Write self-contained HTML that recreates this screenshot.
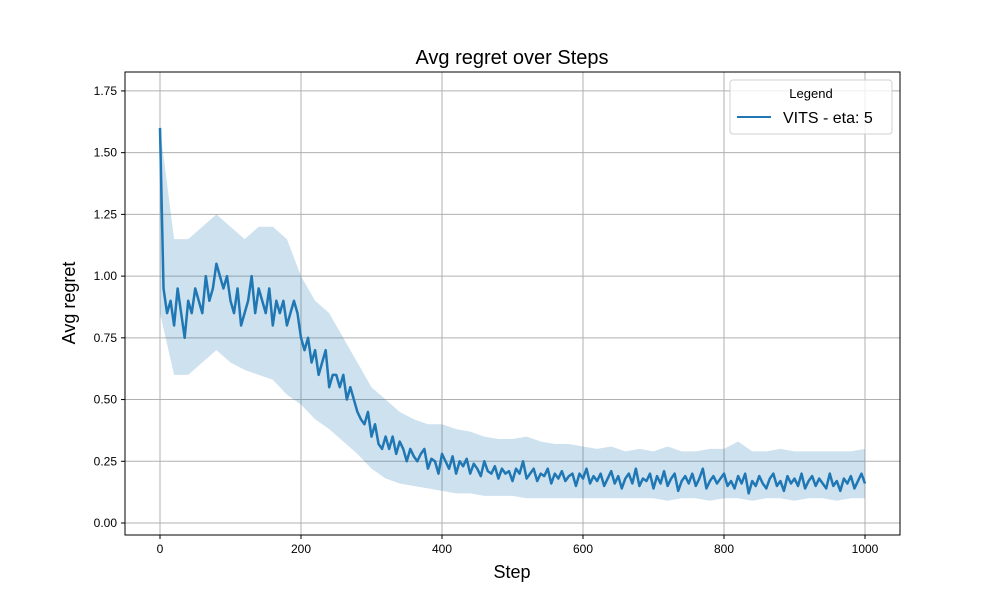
<!DOCTYPE html>
<html><head><meta charset="utf-8"><style>
body{margin:0;background:#fff;}
svg text{font-family:"Liberation Sans","DejaVu Sans",sans-serif;}
</style></head><body>
<svg id="chart" width="1000" height="600" viewBox="0 0 1000 600"></svg>
<script>
// Data
const meanSteps = 5;
const meanValues = [1.6,0.95,0.85,0.9,0.8,0.95,0.85,0.75,0.9,0.85,0.95,0.9,0.85,1.0,0.9,0.95,1.05,1.0,0.95,1.0,
0.9,0.85,0.95,0.8,0.85,0.9,1.0,0.85,0.95,0.9,0.85,0.95,0.8,0.9,0.85,0.9,0.8,0.85,0.9,0.85,
0.75,0.7,0.75,0.65,0.7,0.6,0.65,0.7,0.55,0.6,0.6,0.55,0.6,0.5,0.55,0.5,0.45,0.42,0.4,0.45,
0.35,0.4,0.32,0.3,0.35,0.3,0.35,0.28,0.33,0.3,0.25,0.3,0.27,0.25,0.28,0.3,0.22,0.26,0.25,0.2,
0.28,0.25,0.22,0.27,0.2,0.25,0.23,0.26,0.2,0.24,0.22,0.19,0.25,0.21,0.2,0.23,0.18,0.22,0.2,0.21,
0.17,0.22,0.2,0.25,0.18,0.2,0.22,0.17,0.2,0.19,0.22,0.16,0.2,0.18,0.21,0.17,0.19,0.2,0.15,0.2,
0.18,0.22,0.16,0.19,0.17,0.2,0.15,0.18,0.21,0.16,0.19,0.14,0.18,0.2,0.16,0.22,0.15,0.18,0.17,0.2,
0.14,0.19,0.16,0.21,0.15,0.18,0.2,0.13,0.17,0.19,0.16,0.2,0.15,0.18,0.22,0.14,0.17,0.19,0.16,0.18,
0.2,0.15,0.17,0.14,0.19,0.16,0.2,0.12,0.17,0.15,0.19,0.16,0.14,0.18,0.2,0.15,0.17,0.13,0.19,0.16,
0.18,0.15,0.2,0.14,0.17,0.19,0.15,0.18,0.16,0.14,0.2,0.15,0.17,0.13,0.18,0.16,0.19,0.14,0.17,0.2,0.16];
const bandSteps = 20;
const bandUpper = [1.6,1.15,1.15,1.2,1.25,1.2,1.15,1.2,1.2,1.15,1.0,0.9,0.85,0.75,0.65,0.55,0.5,0.45,0.42,0.4,0.4,0.38,0.37,0.35,0.34,0.34,0.35,0.33,0.32,0.32,0.31,0.3,0.31,0.29,0.3,0.29,0.31,0.29,0.29,0.3,0.3,0.33,0.29,0.29,0.3,0.29,0.29,0.29,0.29,0.29,0.3];
const bandLower = [0.85,0.6,0.6,0.65,0.7,0.65,0.62,0.6,0.58,0.52,0.48,0.42,0.38,0.33,0.28,0.22,0.18,0.16,0.15,0.14,0.13,0.12,0.12,0.11,0.11,0.11,0.1,0.1,0.1,0.1,0.1,0.1,0.1,0.1,0.1,0.1,0.09,0.1,0.1,0.09,0.1,0.1,0.09,0.1,0.1,0.09,0.1,0.1,0.09,0.1,0.1];
const xTicks = [0,200,400,600,800,1000];
const yTicks = [0,0.25,0.5,0.75,1.0,1.25,1.5,1.75];
const yTickLabels = ["0.00","0.25","0.50","0.75","1.00","1.25","1.50","1.75"];

const L=125,R=900,T=72,B=535;
const xs=v=>160+v*0.705;
const ys=v=>523-v*246.9;
const svg=document.getElementById('chart');
const NS='http://www.w3.org/2000/svg';
function mk(tag,attrs,parent){const e=document.createElementNS(NS,tag);for(const k in attrs)e.setAttribute(k,attrs[k]);(parent||svg).appendChild(e);return e;}

xTicks.forEach(t=>{
  const g=mk('line',{x1:xs(t),x2:xs(t),y1:T,y2:B,stroke:'#b0b0b0','stroke-width':1});
  
  
  const tk=mk('line',{x1:xs(t),x2:xs(t),y1:B,y2:B+4,stroke:'#000'});
  
  
  const tx=mk('text',{x:xs(t),y:B+18,'text-anchor':'middle','font-size':12});
  tx.textContent=t;
  
  
});
yTicks.forEach((t,i)=>{
  const g=mk('line',{x1:L,x2:R,y1:ys(t),y2:ys(t),stroke:'#b0b0b0','stroke-width':1});
  
  
  const tk=mk('line',{x1:L-4,x2:L,y1:ys(t),y2:ys(t),stroke:'#000'});
  
  
  const tx=mk('text',{x:L-8,y:ys(t)+4,'text-anchor':'end','font-size':12});
  tx.textContent=yTickLabels[i];
  
  
});

let d='';
bandUpper.forEach((v,i)=>{d+=(i?'L':'M')+xs(i*bandSteps)+','+ys(v);});
for(let i=bandLower.length-1;i>=0;i--){d+='L'+xs(i*bandSteps)+','+ys(bandLower[i]);}
const band=mk('path',{d:d+'Z',fill:'#1f77b4','fill-opacity':0.22,stroke:'none'});



let ld='';
meanValues.forEach((v,i)=>{ld+=(i?'L':'M')+xs(i*meanSteps)+','+ys(v);});
const line=mk('path',{d:ld,fill:'none',stroke:'#1f77b4','stroke-width':2.5,'stroke-linejoin':'round'});


</script>
<svg width="1000" height="600" style="position:absolute;left:0;top:0">
  <rect x="125" y="72" width="775" height="463" fill="none" stroke="#000" stroke-width="1"/>
  <text x="512" y="64" text-anchor="middle" font-size="20">Avg regret over Steps</text>
  <text x="512" y="578" text-anchor="middle" font-size="18">Step</text>
  <text x="75" y="303" text-anchor="middle" font-size="18" transform="rotate(-90 75 303)">Avg regret</text>
  <g>
    <rect x="730" y="80" width="162" height="54" rx="3" fill="#fff" fill-opacity="0.8" stroke="#d0d0d0"/>
    <text x="811" y="98" text-anchor="middle" font-size="13">Legend</text>
    <line x1="737" y1="117" x2="771" y2="117" stroke="#1f77b4" stroke-width="2"/>
    <text x="783" y="123" font-size="16">VITS - eta: 5</text>
  </g>
</svg>
</body></html>
